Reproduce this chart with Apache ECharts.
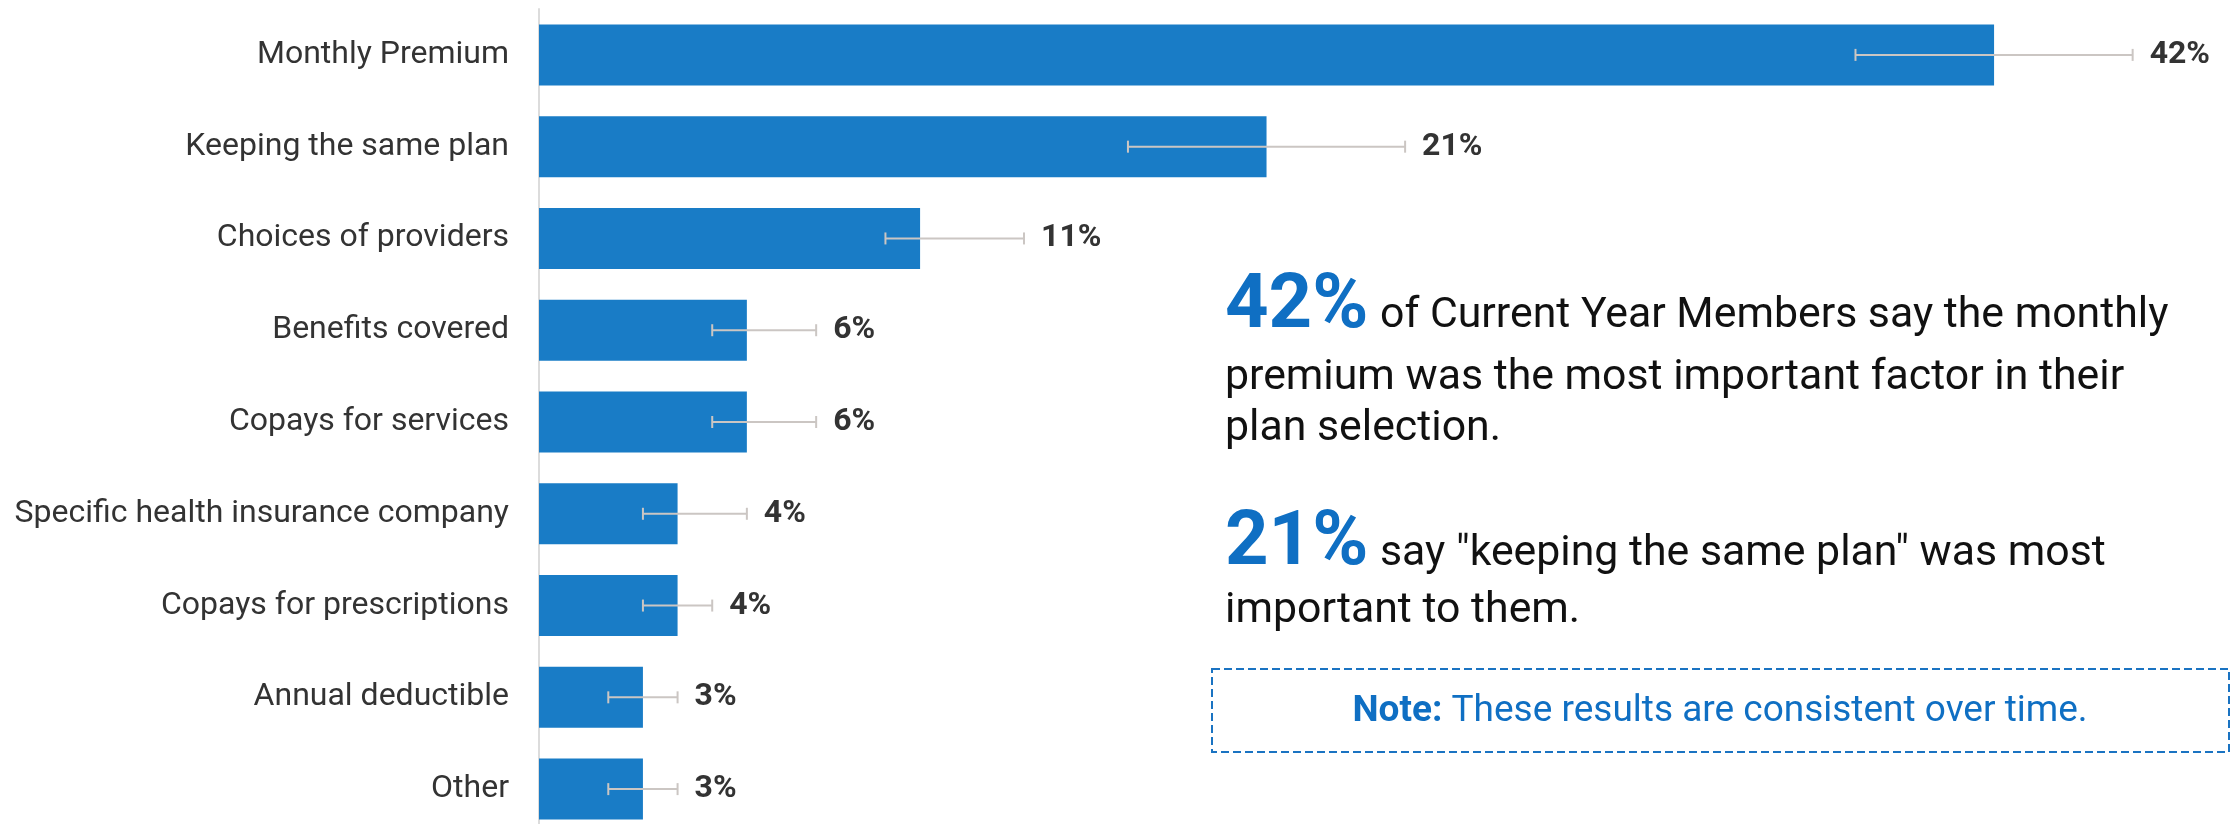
<!DOCTYPE html>
<html>
<head>
<meta charset="utf-8">
<title>Most important factor in plan selection</title>
<script src="https://cdn.jsdelivr.net/npm/echarts@6/dist/echarts.min.js"></script>
<style>
  html, body { margin: 0; padding: 0; background: #ffffff; }
  #chart { width: 2236px; height: 824px; }
</style>
</head>
<body>
<div id="chart"></div>
<script>
// Share of members naming each factor as most important (percent)
const categories = [
  'Monthly Premium',
  'Keeping the same plan',
  'Choices of providers',
  'Benefits covered',
  'Copays for services',
  'Specific health insurance company',
  'Copays for prescriptions',
  'Annual deductible',
  'Other'
];
const shares = [42, 21, 11, 6, 6, 4, 4, 3, 3];
// Confidence interval bounds for each share (percent)
const errLow = [38, 17, 10, 5, 5, 3, 3, 2, 2];
const errHigh = [46, 25, 14, 8, 8, 6, 5, 4, 4];

const FONT = 'Roboto, "Noto Sans", sans-serif';
const BAR_BLUE = '#197cc6';
const TEXT_BLUE = '#0f6fc3';

const chart = echarts.init(document.getElementById('chart'), null, { renderer: 'canvas' });

const errorData = categories.map((c, i) => [i, errLow[i], errHigh[i], shares[i]]);

chart.setOption({
  animation: false,
  backgroundColor: '#ffffff',
  grid: {
    left: 539, top: 9, right: 138, bottom: -11,
    containLabel: false,
    outerBoundsMode: 'none'
  },
  xAxis: {
    type: 'value',
    min: 0,
    max: 45,
    show: false
  },
  yAxis: {
    type: 'category',
    data: categories,
    inverse: true,
    axisLine: { show: true, lineStyle: { color: '#dcdcdc', width: 2 } },
    axisTick: { show: false },
    splitLine: { show: false },
    axisLabel: {
      margin: 30,
      color: '#333333',
      fontFamily: FONT,
      fontSize: 32
    }
  },
  series: [
    {
      type: 'bar',
      data: shares,
      barWidth: 61,
      itemStyle: { color: BAR_BLUE },
      z: 2
    },
    {
      type: 'custom',
      z: 5,
      data: errorData,
      encode: { x: [1, 2], y: 0 },
      renderItem: function (params, api) {
        const idx = api.value(0);
        const lo = api.coord([api.value(1), idx]);
        const hi = api.coord([api.value(2), idx]);
        const y = lo[1];
        const cap = 6;
        const stroke = { stroke: '#cbc6c3', lineWidth: 2 };
        return {
          type: 'group',
          children: [
            { type: 'line', shape: { x1: lo[0], y1: y, x2: hi[0], y2: y }, style: stroke },
            { type: 'line', shape: { x1: lo[0], y1: y - cap, x2: lo[0], y2: y + cap }, style: stroke },
            { type: 'line', shape: { x1: hi[0], y1: y - cap, x2: hi[0], y2: y + cap }, style: stroke },
            {
              type: 'text',
              x: hi[0] + 17,
              y: y,
              style: {
                text: api.value(3) + '%',
                fill: '#333333',
                font: 'bold 32px ' + FONT,
                align: 'left',
                verticalAlign: 'middle'
              }
            }
          ]
        };
      }
    }
  ],
  graphic: [
    {
      type: 'text', left: 1225, top: 270,
      style: { text: '42%', fill: TEXT_BLUE, font: 'bold 76px ' + FONT }
    },
    {
      type: 'text', left: 1380, top: 295,
      style: { text: 'of Current Year Members say the monthly', fill: '#111111', font: '42.8px ' + FONT }
    },
    {
      type: 'text', left: 1225, top: 357,
      style: { text: 'premium was the most important factor in their', fill: '#111111', font: '42.8px ' + FONT }
    },
    {
      type: 'text', left: 1225, top: 408,
      style: { text: 'plan selection.', fill: '#111111', font: '42.8px ' + FONT }
    },
    {
      type: 'text', left: 1225, top: 507,
      style: { text: '21%', fill: TEXT_BLUE, font: 'bold 76px ' + FONT }
    },
    {
      type: 'text', left: 1380, top: 533,
      style: { text: 'say "keeping the same plan" was most', fill: '#111111', font: '42.8px ' + FONT }
    },
    {
      type: 'text', left: 1225, top: 590,
      style: { text: 'important to them.', fill: '#111111', font: '42.8px ' + FONT }
    },
    {
      type: 'rect',
      shape: { x: 1212, y: 669, width: 1017, height: 83 },
      style: { fill: 'none', stroke: '#1a73c2', lineWidth: 2, lineDash: [8, 4] }
    },
    {
      type: 'text',
      x: 1720, y: 712,
      style: {
        text: '{b|Note:}{r| These results are consistent over time.}',
        align: 'center',
        verticalAlign: 'middle',
        rich: {
          b: { fontFamily: FONT, fontSize: 37, fontWeight: 'bold', fill: TEXT_BLUE },
          r: { fontFamily: FONT, fontSize: 37, fill: TEXT_BLUE }
        }
      }
    }
  ]
});
</script>
</body>
</html>
